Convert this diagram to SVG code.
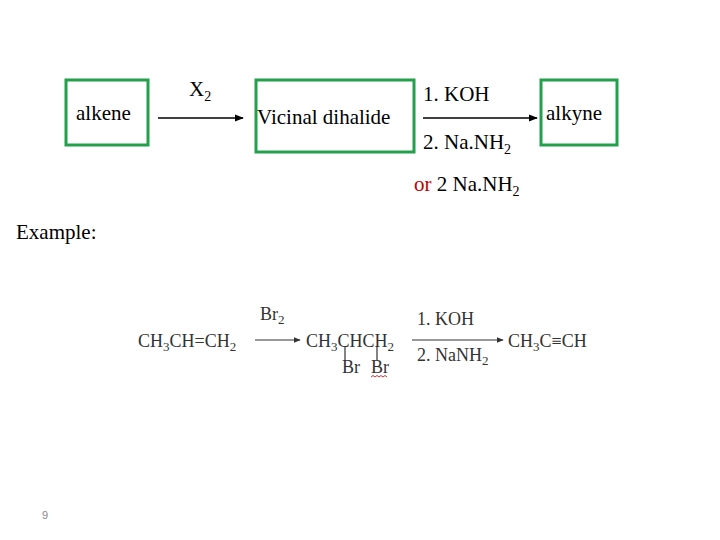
<svg xmlns="http://www.w3.org/2000/svg" width="720" height="540" viewBox="0 0 720 540">
<style>
.t{font-family:"Liberation Serif",serif;font-size:21px;fill:#000}
.c{font-family:"Liberation Serif",serif;font-size:18px;fill:#333}
.box{fill:none;stroke:#22a04b;stroke-width:3}
.ln{stroke:#000;stroke-width:1.5;fill:none}
.ln2{stroke:#333;stroke-width:1.2;fill:none}
</style>
<defs>
<marker id="a" viewBox="0 0 10 10" refX="9" refY="5" markerWidth="6" markerHeight="6" orient="auto"><path d="M0,1 L10,5 L0,9 z" fill="#000"/></marker>
<marker id="b" viewBox="0 0 10 10" refX="9" refY="5" markerWidth="6" markerHeight="6" orient="auto"><path d="M0,1 L10,5 L0,9 z" fill="#333"/></marker>
</defs>
<rect width="720" height="540" fill="#fff"/>
<g id="alkene"><rect class="box" x="66" y="80" width="82" height="65"/><text class="t" x="76" y="120">alkene</text></g>
<g id="vicinal"><rect class="box" x="256" y="80" width="158" height="72"/><text class="t" x="257" y="124">Vicinal dihalide</text></g>
<g id="alkyne"><rect class="box" x="541" y="80" width="76" height="65"/><text class="t" x="546" y="120">alkyne</text></g>
<g id="connectors">
<line class="ln" x1="158" y1="118" x2="243" y2="118" marker-end="url(#a)"/>
<line class="ln" x1="423" y1="118" x2="537" y2="118" marker-end="url(#a)"/>
<line class="ln2" x1="255" y1="340" x2="300" y2="340" marker-end="url(#b)"/>
<line class="ln2" x1="412" y1="340" x2="503" y2="340" marker-end="url(#b)"/>
</g>
<text class="t" x="189" y="96">X<tspan font-size="14" dy="5">2</tspan></text>
<text class="t" x="423" y="101">1. KOH</text>
<text class="t" x="423" y="149">2. Na.NH<tspan font-size="14" dy="5">2</tspan></text>
<text class="t" x="414" y="191"><tspan fill="#c00000">or</tspan> 2 Na.NH<tspan font-size="14" dy="5">2</tspan></text>
<text class="t" x="16" y="239">Example:</text>
<text class="c" x="138" y="347">CH<tspan font-size="13" dy="4">3</tspan><tspan dy="-4">CH=CH</tspan><tspan font-size="13" dy="4">2</tspan></text>
<text class="c" x="260" y="320">Br<tspan font-size="13" dy="4">2</tspan></text>
<text class="c" x="306" y="347">CH<tspan font-size="13" dy="4">3</tspan><tspan dy="-4">CHCH</tspan><tspan font-size="13" dy="4">2</tspan></text>
<line class="ln2" x1="345" y1="346" x2="345" y2="360"/>
<line class="ln2" x1="377" y1="346" x2="377" y2="360"/>
<text class="c" x="342" y="373">Br</text><text class="c" x="371" y="373">Br</text>
<path d="M371,377 l2,-1.5 l2,1.5 l2,-1.5 l2,1.5 l2,-1.5 l2,1.5 l2,-1.5 l2,1.5" stroke="#c00000" stroke-width="0.8" fill="none"/>
<text class="c" x="417" y="325">1.   KOH</text>
<text class="c" x="417" y="361">2.   NaNH<tspan font-size="13" dy="4">2</tspan></text>
<text class="c" x="508" y="347">CH<tspan font-size="13" dy="4">3</tspan><tspan dy="-4">C≡CH</tspan></text>
<text x="42" y="519" font-family="Liberation Sans,sans-serif" font-size="11" fill="#888">9</text>
</svg>
